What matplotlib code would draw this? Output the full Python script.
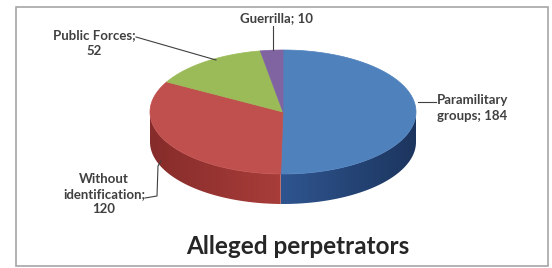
import numpy as np
import matplotlib.pyplot as plt
from matplotlib.patches import Polygon, Rectangle
from matplotlib.colors import LinearSegmentedColormap

# data
labels = ["Paramilitary\ngroups; 184", "Without\nidentification;\n120", "Public Forces;\n52", "Guerrilla; 10"]
values = [184, 120, 52, 10]
top_colors = ["#4f81bd", "#c0504d", "#9bbb59", "#8064a2"]
side_light = ["#2f5590", "#a83d3a", "#7a9a40", "#604880"]
side_dark = ["#1c355e", "#862c2a", "#5b7430", "#45325e"]
title = "Alleged perpetrators"

W, H = 552, 268
fig = plt.figure(figsize=(W / 100, H / 100), dpi=100)
ax = fig.add_axes([0, 0, 1, 1])
ax.set_xlim(0, W)
ax.set_ylim(H, 0)
ax.axis("off")

# chart frame
ax.add_patch(Rectangle((15.5, 6.5), 532, 259, fill=False, ec="#a6a6a6", lw=1.2))

cx, cy, rx, ry, depth = 283, 112, 133, 62, 30


def pt(theta, dy=0):
    # theta: degrees clockwise from 12 o'clock
    t = np.radians(theta)
    return cx + rx * np.sin(t), cy - ry * np.cos(t) + dy


total = sum(values)
angles = np.cumsum([0] + values) / total * 360

# side walls (front half only: 90..270 deg), gradient clipped to the wall
for i in range(len(values)):
    a0, a1 = max(angles[i], 90), min(angles[i + 1], 270)
    if a1 <= a0:
        continue
    th = np.linspace(a0, a1, 80)
    upper = [pt(t) for t in th]
    lower = [pt(t, depth) for t in th[::-1]]
    wall = Polygon(upper + lower, closed=True, fc="none", ec="none")
    ax.add_patch(wall)
    xs = [p[0] for p in upper]
    cmap = LinearSegmentedColormap.from_list("s%d" % i, [side_light[i], side_dark[i]])
    grad = np.linspace(0, 1, 256).reshape(1, -1)
    if i == 1:
        grad = grad[:, ::-1]
    x_lo, x_hi = min(xs), max(xs)
    im = ax.imshow(grad, cmap=cmap, aspect="auto", interpolation="bilinear",
                   extent=[x_lo, x_hi, cy + ry + depth + 2, cy - 2])
    im.set_clip_path(wall)

# top wedges
for i in range(len(values)):
    th = np.linspace(angles[i], angles[i + 1], 100)
    pts = [(cx, cy)] + [pt(t) for t in th]
    ax.add_patch(Polygon(pts, closed=True, fc=top_colors[i], ec=top_colors[i], lw=0.5))

ax.set_xlim(0, W)
ax.set_ylim(H, 0)

# labels and leader lines
fkw = dict(fontsize=9.5, fontweight="bold", color="#404040", family=["Lato", "DejaVu Sans"])
ax.text(437, 108, labels[0], ha="left", va="center", linespacing=1.35, **fkw)
ax.plot([418, 436], [102, 102], color="#404040", lw=0.8)

ax.text(104, 194, labels[1], ha="center", va="center", linespacing=1.3, multialignment="center", **fkw)
ax.plot([145, 157, 158, 161], [198, 196, 166, 161], color="#404040", lw=0.8)

ax.text(94, 43, labels[2], ha="center", va="center", linespacing=1.35, multialignment="center", **fkw)
ax.plot([136, 216], [37, 60], color="#404040", lw=0.8)

ax.text(276, 18, labels[3], ha="center", va="center", **fkw)
ax.plot([273, 273], [26, 50], color="#404040", lw=0.8)

ax.text(298, 247, title, ha="center", va="center", fontsize=17.5, fontweight="bold",
        color="#262626", family=["Lato", "DejaVu Sans"])

fig.savefig("out.png", dpi=100)
